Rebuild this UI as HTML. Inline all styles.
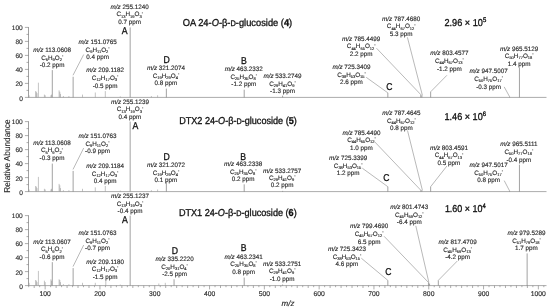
<!DOCTYPE html>
<html><head><meta charset="utf-8"><style>
html,body{margin:0;padding:0;background:#fff;}
svg{filter:blur(0.3px);display:block;font-family:"Liberation Sans",sans-serif;text-rendering:geometricPrecision;}
text{stroke:#2a2a2a;stroke-width:0.14px;}
</style></head><body>
<svg width="550" height="308" viewBox="0 0 550 308" font-size="6.3" fill="#2a2a2a">
<rect width="550" height="308" fill="#fff"/>
<line x1="28.50" y1="27.10" x2="28.50" y2="97.70" stroke="#777" stroke-width="0.7"/>
<line x1="24.90" y1="97.40" x2="28.50" y2="97.40" stroke="#777" stroke-width="0.6"/>
<line x1="26.50" y1="90.40" x2="28.50" y2="90.40" stroke="#777" stroke-width="0.6"/>
<line x1="24.90" y1="83.40" x2="28.50" y2="83.40" stroke="#777" stroke-width="0.6"/>
<line x1="26.50" y1="76.40" x2="28.50" y2="76.40" stroke="#777" stroke-width="0.6"/>
<line x1="24.90" y1="69.40" x2="28.50" y2="69.40" stroke="#777" stroke-width="0.6"/>
<line x1="26.50" y1="62.40" x2="28.50" y2="62.40" stroke="#777" stroke-width="0.6"/>
<line x1="24.90" y1="55.40" x2="28.50" y2="55.40" stroke="#777" stroke-width="0.6"/>
<line x1="26.50" y1="48.40" x2="28.50" y2="48.40" stroke="#777" stroke-width="0.6"/>
<line x1="24.90" y1="41.40" x2="28.50" y2="41.40" stroke="#777" stroke-width="0.6"/>
<line x1="26.50" y1="34.40" x2="28.50" y2="34.40" stroke="#777" stroke-width="0.6"/>
<line x1="24.90" y1="27.40" x2="28.50" y2="27.40" stroke="#777" stroke-width="0.6"/>
<text x="22.80" y="100.58" text-anchor="end" font-size="6.6" fill="#2a2a2a">0</text>
<text x="22.80" y="86.42" text-anchor="end" font-size="6.6" fill="#2a2a2a">20</text>
<text x="22.80" y="72.26" text-anchor="end" font-size="6.6" fill="#2a2a2a">40</text>
<text x="22.80" y="58.10" text-anchor="end" font-size="6.6" fill="#2a2a2a">60</text>
<text x="22.80" y="43.94" text-anchor="end" font-size="6.6" fill="#2a2a2a">80</text>
<text x="22.80" y="29.78" text-anchor="end" font-size="6.6" fill="#2a2a2a">100</text>
<line x1="28.50" y1="97.40" x2="546.50" y2="97.40" stroke="#888" stroke-width="0.7"/>
<line x1="28.50" y1="121.30" x2="28.50" y2="191.90" stroke="#777" stroke-width="0.7"/>
<line x1="24.90" y1="191.60" x2="28.50" y2="191.60" stroke="#777" stroke-width="0.6"/>
<line x1="26.50" y1="184.60" x2="28.50" y2="184.60" stroke="#777" stroke-width="0.6"/>
<line x1="24.90" y1="177.60" x2="28.50" y2="177.60" stroke="#777" stroke-width="0.6"/>
<line x1="26.50" y1="170.60" x2="28.50" y2="170.60" stroke="#777" stroke-width="0.6"/>
<line x1="24.90" y1="163.60" x2="28.50" y2="163.60" stroke="#777" stroke-width="0.6"/>
<line x1="26.50" y1="156.60" x2="28.50" y2="156.60" stroke="#777" stroke-width="0.6"/>
<line x1="24.90" y1="149.60" x2="28.50" y2="149.60" stroke="#777" stroke-width="0.6"/>
<line x1="26.50" y1="142.60" x2="28.50" y2="142.60" stroke="#777" stroke-width="0.6"/>
<line x1="24.90" y1="135.60" x2="28.50" y2="135.60" stroke="#777" stroke-width="0.6"/>
<line x1="26.50" y1="128.60" x2="28.50" y2="128.60" stroke="#777" stroke-width="0.6"/>
<line x1="24.90" y1="121.60" x2="28.50" y2="121.60" stroke="#777" stroke-width="0.6"/>
<text x="22.80" y="194.78" text-anchor="end" font-size="6.6" fill="#2a2a2a">0</text>
<text x="22.80" y="180.62" text-anchor="end" font-size="6.6" fill="#2a2a2a">20</text>
<text x="22.80" y="166.46" text-anchor="end" font-size="6.6" fill="#2a2a2a">40</text>
<text x="22.80" y="152.30" text-anchor="end" font-size="6.6" fill="#2a2a2a">60</text>
<text x="22.80" y="138.14" text-anchor="end" font-size="6.6" fill="#2a2a2a">80</text>
<text x="22.80" y="123.98" text-anchor="end" font-size="6.6" fill="#2a2a2a">100</text>
<line x1="28.50" y1="191.60" x2="546.50" y2="191.60" stroke="#888" stroke-width="0.7"/>
<line x1="28.50" y1="215.30" x2="28.50" y2="285.90" stroke="#777" stroke-width="0.7"/>
<line x1="24.90" y1="285.60" x2="28.50" y2="285.60" stroke="#777" stroke-width="0.6"/>
<line x1="26.50" y1="278.60" x2="28.50" y2="278.60" stroke="#777" stroke-width="0.6"/>
<line x1="24.90" y1="271.60" x2="28.50" y2="271.60" stroke="#777" stroke-width="0.6"/>
<line x1="26.50" y1="264.60" x2="28.50" y2="264.60" stroke="#777" stroke-width="0.6"/>
<line x1="24.90" y1="257.60" x2="28.50" y2="257.60" stroke="#777" stroke-width="0.6"/>
<line x1="26.50" y1="250.60" x2="28.50" y2="250.60" stroke="#777" stroke-width="0.6"/>
<line x1="24.90" y1="243.60" x2="28.50" y2="243.60" stroke="#777" stroke-width="0.6"/>
<line x1="26.50" y1="236.60" x2="28.50" y2="236.60" stroke="#777" stroke-width="0.6"/>
<line x1="24.90" y1="229.60" x2="28.50" y2="229.60" stroke="#777" stroke-width="0.6"/>
<line x1="26.50" y1="222.60" x2="28.50" y2="222.60" stroke="#777" stroke-width="0.6"/>
<line x1="24.90" y1="215.60" x2="28.50" y2="215.60" stroke="#777" stroke-width="0.6"/>
<text x="22.80" y="288.78" text-anchor="end" font-size="6.6" fill="#2a2a2a">0</text>
<text x="22.80" y="274.62" text-anchor="end" font-size="6.6" fill="#2a2a2a">20</text>
<text x="22.80" y="260.46" text-anchor="end" font-size="6.6" fill="#2a2a2a">40</text>
<text x="22.80" y="246.30" text-anchor="end" font-size="6.6" fill="#2a2a2a">60</text>
<text x="22.80" y="232.14" text-anchor="end" font-size="6.6" fill="#2a2a2a">80</text>
<text x="22.80" y="217.98" text-anchor="end" font-size="6.6" fill="#2a2a2a">100</text>
<line x1="28.50" y1="285.60" x2="546.50" y2="285.60" stroke="#888" stroke-width="0.7"/>
<line x1="28.71" y1="285.60" x2="28.71" y2="287.20" stroke="#777" stroke-width="0.6"/>
<line x1="34.19" y1="285.60" x2="34.19" y2="288.00" stroke="#777" stroke-width="0.6"/>
<line x1="39.67" y1="285.60" x2="39.67" y2="287.20" stroke="#777" stroke-width="0.6"/>
<line x1="45.15" y1="285.60" x2="45.15" y2="289.40" stroke="#777" stroke-width="0.6"/>
<line x1="50.63" y1="285.60" x2="50.63" y2="287.20" stroke="#777" stroke-width="0.6"/>
<line x1="56.11" y1="285.60" x2="56.11" y2="288.00" stroke="#777" stroke-width="0.6"/>
<line x1="61.59" y1="285.60" x2="61.59" y2="287.20" stroke="#777" stroke-width="0.6"/>
<line x1="67.07" y1="285.60" x2="67.07" y2="288.00" stroke="#777" stroke-width="0.6"/>
<line x1="72.55" y1="285.60" x2="72.55" y2="287.20" stroke="#777" stroke-width="0.6"/>
<line x1="78.03" y1="285.60" x2="78.03" y2="288.00" stroke="#777" stroke-width="0.6"/>
<line x1="83.51" y1="285.60" x2="83.51" y2="287.20" stroke="#777" stroke-width="0.6"/>
<line x1="88.99" y1="285.60" x2="88.99" y2="288.00" stroke="#777" stroke-width="0.6"/>
<line x1="94.47" y1="285.60" x2="94.47" y2="287.20" stroke="#777" stroke-width="0.6"/>
<line x1="99.95" y1="285.60" x2="99.95" y2="289.40" stroke="#777" stroke-width="0.6"/>
<line x1="105.43" y1="285.60" x2="105.43" y2="287.20" stroke="#777" stroke-width="0.6"/>
<line x1="110.91" y1="285.60" x2="110.91" y2="288.00" stroke="#777" stroke-width="0.6"/>
<line x1="116.39" y1="285.60" x2="116.39" y2="287.20" stroke="#777" stroke-width="0.6"/>
<line x1="121.87" y1="285.60" x2="121.87" y2="288.00" stroke="#777" stroke-width="0.6"/>
<line x1="127.35" y1="285.60" x2="127.35" y2="287.20" stroke="#777" stroke-width="0.6"/>
<line x1="132.83" y1="285.60" x2="132.83" y2="288.00" stroke="#777" stroke-width="0.6"/>
<line x1="138.31" y1="285.60" x2="138.31" y2="287.20" stroke="#777" stroke-width="0.6"/>
<line x1="143.79" y1="285.60" x2="143.79" y2="288.00" stroke="#777" stroke-width="0.6"/>
<line x1="149.27" y1="285.60" x2="149.27" y2="287.20" stroke="#777" stroke-width="0.6"/>
<line x1="154.75" y1="285.60" x2="154.75" y2="289.40" stroke="#777" stroke-width="0.6"/>
<line x1="160.23" y1="285.60" x2="160.23" y2="287.20" stroke="#777" stroke-width="0.6"/>
<line x1="165.71" y1="285.60" x2="165.71" y2="288.00" stroke="#777" stroke-width="0.6"/>
<line x1="171.19" y1="285.60" x2="171.19" y2="287.20" stroke="#777" stroke-width="0.6"/>
<line x1="176.67" y1="285.60" x2="176.67" y2="288.00" stroke="#777" stroke-width="0.6"/>
<line x1="182.15" y1="285.60" x2="182.15" y2="287.20" stroke="#777" stroke-width="0.6"/>
<line x1="187.63" y1="285.60" x2="187.63" y2="288.00" stroke="#777" stroke-width="0.6"/>
<line x1="193.11" y1="285.60" x2="193.11" y2="287.20" stroke="#777" stroke-width="0.6"/>
<line x1="198.59" y1="285.60" x2="198.59" y2="288.00" stroke="#777" stroke-width="0.6"/>
<line x1="204.07" y1="285.60" x2="204.07" y2="287.20" stroke="#777" stroke-width="0.6"/>
<line x1="209.55" y1="285.60" x2="209.55" y2="289.40" stroke="#777" stroke-width="0.6"/>
<line x1="215.03" y1="285.60" x2="215.03" y2="287.20" stroke="#777" stroke-width="0.6"/>
<line x1="220.51" y1="285.60" x2="220.51" y2="288.00" stroke="#777" stroke-width="0.6"/>
<line x1="225.99" y1="285.60" x2="225.99" y2="287.20" stroke="#777" stroke-width="0.6"/>
<line x1="231.47" y1="285.60" x2="231.47" y2="288.00" stroke="#777" stroke-width="0.6"/>
<line x1="236.95" y1="285.60" x2="236.95" y2="287.20" stroke="#777" stroke-width="0.6"/>
<line x1="242.43" y1="285.60" x2="242.43" y2="288.00" stroke="#777" stroke-width="0.6"/>
<line x1="247.91" y1="285.60" x2="247.91" y2="287.20" stroke="#777" stroke-width="0.6"/>
<line x1="253.39" y1="285.60" x2="253.39" y2="288.00" stroke="#777" stroke-width="0.6"/>
<line x1="258.87" y1="285.60" x2="258.87" y2="287.20" stroke="#777" stroke-width="0.6"/>
<line x1="264.35" y1="285.60" x2="264.35" y2="289.40" stroke="#777" stroke-width="0.6"/>
<line x1="269.83" y1="285.60" x2="269.83" y2="287.20" stroke="#777" stroke-width="0.6"/>
<line x1="275.31" y1="285.60" x2="275.31" y2="288.00" stroke="#777" stroke-width="0.6"/>
<line x1="280.79" y1="285.60" x2="280.79" y2="287.20" stroke="#777" stroke-width="0.6"/>
<line x1="286.27" y1="285.60" x2="286.27" y2="288.00" stroke="#777" stroke-width="0.6"/>
<line x1="291.75" y1="285.60" x2="291.75" y2="287.20" stroke="#777" stroke-width="0.6"/>
<line x1="297.23" y1="285.60" x2="297.23" y2="288.00" stroke="#777" stroke-width="0.6"/>
<line x1="302.71" y1="285.60" x2="302.71" y2="287.20" stroke="#777" stroke-width="0.6"/>
<line x1="308.19" y1="285.60" x2="308.19" y2="288.00" stroke="#777" stroke-width="0.6"/>
<line x1="313.67" y1="285.60" x2="313.67" y2="287.20" stroke="#777" stroke-width="0.6"/>
<line x1="319.15" y1="285.60" x2="319.15" y2="289.40" stroke="#777" stroke-width="0.6"/>
<line x1="324.63" y1="285.60" x2="324.63" y2="287.20" stroke="#777" stroke-width="0.6"/>
<line x1="330.11" y1="285.60" x2="330.11" y2="288.00" stroke="#777" stroke-width="0.6"/>
<line x1="335.59" y1="285.60" x2="335.59" y2="287.20" stroke="#777" stroke-width="0.6"/>
<line x1="341.07" y1="285.60" x2="341.07" y2="288.00" stroke="#777" stroke-width="0.6"/>
<line x1="346.55" y1="285.60" x2="346.55" y2="287.20" stroke="#777" stroke-width="0.6"/>
<line x1="352.03" y1="285.60" x2="352.03" y2="288.00" stroke="#777" stroke-width="0.6"/>
<line x1="357.51" y1="285.60" x2="357.51" y2="287.20" stroke="#777" stroke-width="0.6"/>
<line x1="362.99" y1="285.60" x2="362.99" y2="288.00" stroke="#777" stroke-width="0.6"/>
<line x1="368.47" y1="285.60" x2="368.47" y2="287.20" stroke="#777" stroke-width="0.6"/>
<line x1="373.95" y1="285.60" x2="373.95" y2="289.40" stroke="#777" stroke-width="0.6"/>
<line x1="379.43" y1="285.60" x2="379.43" y2="287.20" stroke="#777" stroke-width="0.6"/>
<line x1="384.91" y1="285.60" x2="384.91" y2="288.00" stroke="#777" stroke-width="0.6"/>
<line x1="390.39" y1="285.60" x2="390.39" y2="287.20" stroke="#777" stroke-width="0.6"/>
<line x1="395.87" y1="285.60" x2="395.87" y2="288.00" stroke="#777" stroke-width="0.6"/>
<line x1="401.35" y1="285.60" x2="401.35" y2="287.20" stroke="#777" stroke-width="0.6"/>
<line x1="406.83" y1="285.60" x2="406.83" y2="288.00" stroke="#777" stroke-width="0.6"/>
<line x1="412.31" y1="285.60" x2="412.31" y2="287.20" stroke="#777" stroke-width="0.6"/>
<line x1="417.79" y1="285.60" x2="417.79" y2="288.00" stroke="#777" stroke-width="0.6"/>
<line x1="423.27" y1="285.60" x2="423.27" y2="287.20" stroke="#777" stroke-width="0.6"/>
<line x1="428.75" y1="285.60" x2="428.75" y2="289.40" stroke="#777" stroke-width="0.6"/>
<line x1="434.23" y1="285.60" x2="434.23" y2="287.20" stroke="#777" stroke-width="0.6"/>
<line x1="439.71" y1="285.60" x2="439.71" y2="288.00" stroke="#777" stroke-width="0.6"/>
<line x1="445.19" y1="285.60" x2="445.19" y2="287.20" stroke="#777" stroke-width="0.6"/>
<line x1="450.67" y1="285.60" x2="450.67" y2="288.00" stroke="#777" stroke-width="0.6"/>
<line x1="456.15" y1="285.60" x2="456.15" y2="287.20" stroke="#777" stroke-width="0.6"/>
<line x1="461.63" y1="285.60" x2="461.63" y2="288.00" stroke="#777" stroke-width="0.6"/>
<line x1="467.11" y1="285.60" x2="467.11" y2="287.20" stroke="#777" stroke-width="0.6"/>
<line x1="472.59" y1="285.60" x2="472.59" y2="288.00" stroke="#777" stroke-width="0.6"/>
<line x1="478.07" y1="285.60" x2="478.07" y2="287.20" stroke="#777" stroke-width="0.6"/>
<line x1="483.55" y1="285.60" x2="483.55" y2="289.40" stroke="#777" stroke-width="0.6"/>
<line x1="489.03" y1="285.60" x2="489.03" y2="287.20" stroke="#777" stroke-width="0.6"/>
<line x1="494.51" y1="285.60" x2="494.51" y2="288.00" stroke="#777" stroke-width="0.6"/>
<line x1="499.99" y1="285.60" x2="499.99" y2="287.20" stroke="#777" stroke-width="0.6"/>
<line x1="505.47" y1="285.60" x2="505.47" y2="288.00" stroke="#777" stroke-width="0.6"/>
<line x1="510.95" y1="285.60" x2="510.95" y2="287.20" stroke="#777" stroke-width="0.6"/>
<line x1="516.43" y1="285.60" x2="516.43" y2="288.00" stroke="#777" stroke-width="0.6"/>
<line x1="521.91" y1="285.60" x2="521.91" y2="287.20" stroke="#777" stroke-width="0.6"/>
<line x1="527.39" y1="285.60" x2="527.39" y2="288.00" stroke="#777" stroke-width="0.6"/>
<line x1="532.87" y1="285.60" x2="532.87" y2="287.20" stroke="#777" stroke-width="0.6"/>
<line x1="538.35" y1="285.60" x2="538.35" y2="289.40" stroke="#777" stroke-width="0.6"/>
<line x1="543.83" y1="285.60" x2="543.83" y2="287.20" stroke="#777" stroke-width="0.6"/>
<text x="45.15" y="296.15" text-anchor="middle" font-size="6.8" fill="#2a2a2a">100</text>
<text x="99.95" y="296.15" text-anchor="middle" font-size="6.8" fill="#2a2a2a">200</text>
<text x="154.75" y="296.15" text-anchor="middle" font-size="6.8" fill="#2a2a2a">300</text>
<text x="209.55" y="296.15" text-anchor="middle" font-size="6.8" fill="#2a2a2a">400</text>
<text x="264.35" y="296.15" text-anchor="middle" font-size="6.8" fill="#2a2a2a">500</text>
<text x="319.15" y="296.15" text-anchor="middle" font-size="6.8" fill="#2a2a2a">600</text>
<text x="373.95" y="296.15" text-anchor="middle" font-size="6.8" fill="#2a2a2a">700</text>
<text x="428.75" y="296.15" text-anchor="middle" font-size="6.8" fill="#2a2a2a">800</text>
<text x="483.55" y="296.15" text-anchor="middle" font-size="6.8" fill="#2a2a2a">900</text>
<text x="538.35" y="296.15" text-anchor="middle" font-size="6.8" fill="#2a2a2a">1000</text>
<text x="288" y="305.78" text-anchor="middle" font-size="8" font-style="italic" fill="#2a2a2a">m/z</text>
<text transform="translate(10.0,156.1) rotate(-90)" text-anchor="middle" font-size="8.6" fill="#2a2a2a" textLength="73.2" lengthAdjust="spacingAndGlyphs" x="0" y="0">Relative Abundance</text>
<line x1="29.10" y1="97.40" x2="29.10" y2="95.30" stroke="#9a9a9a" stroke-width="0.6"/>
<line x1="35.60" y1="97.40" x2="35.60" y2="91.10" stroke="#9a9a9a" stroke-width="0.6"/>
<line x1="36.40" y1="97.40" x2="36.40" y2="91.80" stroke="#9a9a9a" stroke-width="0.6"/>
<line x1="37.00" y1="97.40" x2="37.00" y2="93.20" stroke="#9a9a9a" stroke-width="0.6"/>
<line x1="38.40" y1="97.40" x2="38.40" y2="82.70" stroke="#9a9a9a" stroke-width="0.6"/>
<line x1="44.40" y1="97.40" x2="44.40" y2="94.60" stroke="#9a9a9a" stroke-width="0.6"/>
<line x1="45.20" y1="97.40" x2="45.20" y2="95.30" stroke="#9a9a9a" stroke-width="0.6"/>
<line x1="50.90" y1="97.40" x2="50.90" y2="95.30" stroke="#9a9a9a" stroke-width="0.6"/>
<line x1="51.50" y1="97.40" x2="51.50" y2="94.60" stroke="#9a9a9a" stroke-width="0.6"/>
<line x1="59.10" y1="97.40" x2="59.10" y2="90.40" stroke="#9a9a9a" stroke-width="0.6"/>
<line x1="59.80" y1="97.40" x2="59.80" y2="91.80" stroke="#9a9a9a" stroke-width="0.6"/>
<line x1="60.50" y1="97.40" x2="60.50" y2="93.90" stroke="#9a9a9a" stroke-width="0.6"/>
<line x1="63.40" y1="97.40" x2="63.40" y2="96.00" stroke="#9a9a9a" stroke-width="0.6"/>
<line x1="68.90" y1="97.40" x2="68.90" y2="96.00" stroke="#9a9a9a" stroke-width="0.6"/>
<line x1="82.50" y1="97.40" x2="82.50" y2="94.60" stroke="#9a9a9a" stroke-width="0.6"/>
<line x1="95.30" y1="97.40" x2="95.30" y2="92.50" stroke="#9a9a9a" stroke-width="0.6"/>
<line x1="105.30" y1="97.40" x2="105.30" y2="91.10" stroke="#9a9a9a" stroke-width="0.6"/>
<line x1="120.30" y1="97.40" x2="120.30" y2="96.35" stroke="#9a9a9a" stroke-width="0.6"/>
<line x1="151.40" y1="97.40" x2="151.40" y2="96.00" stroke="#9a9a9a" stroke-width="0.6"/>
<line x1="157.60" y1="97.40" x2="157.60" y2="95.30" stroke="#9a9a9a" stroke-width="0.6"/>
<line x1="29.10" y1="191.60" x2="29.10" y2="189.50" stroke="#9a9a9a" stroke-width="0.6"/>
<line x1="35.60" y1="191.60" x2="35.60" y2="186.00" stroke="#9a9a9a" stroke-width="0.6"/>
<line x1="36.40" y1="191.60" x2="36.40" y2="186.70" stroke="#9a9a9a" stroke-width="0.6"/>
<line x1="37.00" y1="191.60" x2="37.00" y2="188.10" stroke="#9a9a9a" stroke-width="0.6"/>
<line x1="38.40" y1="191.60" x2="38.40" y2="176.90" stroke="#9a9a9a" stroke-width="0.6"/>
<line x1="44.40" y1="191.60" x2="44.40" y2="188.80" stroke="#9a9a9a" stroke-width="0.6"/>
<line x1="45.20" y1="191.60" x2="45.20" y2="189.50" stroke="#9a9a9a" stroke-width="0.6"/>
<line x1="50.90" y1="191.60" x2="50.90" y2="189.50" stroke="#9a9a9a" stroke-width="0.6"/>
<line x1="51.50" y1="191.60" x2="51.50" y2="188.80" stroke="#9a9a9a" stroke-width="0.6"/>
<line x1="59.10" y1="191.60" x2="59.10" y2="183.90" stroke="#9a9a9a" stroke-width="0.6"/>
<line x1="59.80" y1="191.60" x2="59.80" y2="185.30" stroke="#9a9a9a" stroke-width="0.6"/>
<line x1="60.50" y1="191.60" x2="60.50" y2="188.10" stroke="#9a9a9a" stroke-width="0.6"/>
<line x1="63.40" y1="191.60" x2="63.40" y2="190.20" stroke="#9a9a9a" stroke-width="0.6"/>
<line x1="68.90" y1="191.60" x2="68.90" y2="190.20" stroke="#9a9a9a" stroke-width="0.6"/>
<line x1="82.50" y1="191.60" x2="82.50" y2="188.80" stroke="#9a9a9a" stroke-width="0.6"/>
<line x1="95.30" y1="191.60" x2="95.30" y2="187.40" stroke="#9a9a9a" stroke-width="0.6"/>
<line x1="105.30" y1="191.60" x2="105.30" y2="186.00" stroke="#9a9a9a" stroke-width="0.6"/>
<line x1="120.30" y1="191.60" x2="120.30" y2="190.55" stroke="#9a9a9a" stroke-width="0.6"/>
<line x1="151.40" y1="191.60" x2="151.40" y2="190.20" stroke="#9a9a9a" stroke-width="0.6"/>
<line x1="157.60" y1="191.60" x2="157.60" y2="189.50" stroke="#9a9a9a" stroke-width="0.6"/>
<line x1="29.10" y1="285.60" x2="29.10" y2="282.80" stroke="#9a9a9a" stroke-width="0.6"/>
<line x1="35.60" y1="285.60" x2="35.60" y2="280.00" stroke="#9a9a9a" stroke-width="0.6"/>
<line x1="36.40" y1="285.60" x2="36.40" y2="280.70" stroke="#9a9a9a" stroke-width="0.6"/>
<line x1="37.00" y1="285.60" x2="37.00" y2="282.10" stroke="#9a9a9a" stroke-width="0.6"/>
<line x1="38.40" y1="285.60" x2="38.40" y2="270.90" stroke="#9a9a9a" stroke-width="0.6"/>
<line x1="44.40" y1="285.60" x2="44.40" y2="280.70" stroke="#9a9a9a" stroke-width="0.6"/>
<line x1="45.20" y1="285.60" x2="45.20" y2="282.10" stroke="#9a9a9a" stroke-width="0.6"/>
<line x1="50.90" y1="285.60" x2="50.90" y2="279.30" stroke="#9a9a9a" stroke-width="0.6"/>
<line x1="51.50" y1="285.60" x2="51.50" y2="280.70" stroke="#9a9a9a" stroke-width="0.6"/>
<line x1="59.10" y1="285.60" x2="59.10" y2="279.30" stroke="#9a9a9a" stroke-width="0.6"/>
<line x1="59.80" y1="285.60" x2="59.80" y2="280.00" stroke="#9a9a9a" stroke-width="0.6"/>
<line x1="60.50" y1="285.60" x2="60.50" y2="282.10" stroke="#9a9a9a" stroke-width="0.6"/>
<line x1="63.40" y1="285.60" x2="63.40" y2="284.20" stroke="#9a9a9a" stroke-width="0.6"/>
<line x1="68.90" y1="285.60" x2="68.90" y2="284.20" stroke="#9a9a9a" stroke-width="0.6"/>
<line x1="82.50" y1="285.60" x2="82.50" y2="282.80" stroke="#9a9a9a" stroke-width="0.6"/>
<line x1="95.30" y1="285.60" x2="95.30" y2="282.80" stroke="#9a9a9a" stroke-width="0.6"/>
<line x1="105.80" y1="285.60" x2="105.80" y2="280.00" stroke="#9a9a9a" stroke-width="0.6"/>
<line x1="120.30" y1="285.60" x2="120.30" y2="284.55" stroke="#9a9a9a" stroke-width="0.6"/>
<line x1="158.80" y1="285.60" x2="158.80" y2="283.50" stroke="#9a9a9a" stroke-width="0.6"/>
<line x1="165.30" y1="285.60" x2="165.30" y2="282.80" stroke="#9a9a9a" stroke-width="0.6"/>
<line x1="130.16" y1="97.40" x2="130.16" y2="27.40" stroke="#7a7a7a" stroke-width="0.7"/>
<line x1="52.31" y1="97.40" x2="52.31" y2="70.10" stroke="#7a7a7a" stroke-width="0.7"/>
<line x1="73.14" y1="97.40" x2="73.14" y2="76.75" stroke="#7a7a7a" stroke-width="0.7"/>
<line x1="166.37" y1="97.40" x2="166.37" y2="88.65" stroke="#7a7a7a" stroke-width="0.7"/>
<line x1="244.20" y1="97.40" x2="244.20" y2="89.70" stroke="#7a7a7a" stroke-width="0.7"/>
<line x1="282.58" y1="97.40" x2="282.58" y2="95.65" stroke="#7a7a7a" stroke-width="0.7"/>
<line x1="387.84" y1="97.40" x2="387.84" y2="92.85" stroke="#7a7a7a" stroke-width="0.7"/>
<line x1="420.78" y1="97.40" x2="420.78" y2="94.60" stroke="#7a7a7a" stroke-width="0.7"/>
<line x1="421.88" y1="97.40" x2="421.88" y2="95.30" stroke="#7a7a7a" stroke-width="0.7"/>
<line x1="430.65" y1="97.40" x2="430.65" y2="91.80" stroke="#7a7a7a" stroke-width="0.7"/>
<line x1="509.58" y1="97.40" x2="509.58" y2="96.70" stroke="#7a7a7a" stroke-width="0.7"/>
<line x1="519.45" y1="97.40" x2="519.45" y2="67.65" stroke="#7a7a7a" stroke-width="0.7"/>
<text x="129.70" y="8.77" text-anchor="middle"><tspan font-style="italic">m/z</tspan> 255.1240</text>
<text x="129.70" y="16.49" text-anchor="middle"><tspan dy="0.00">C</tspan><tspan font-size="4.03" dy="1.10">13</tspan><tspan dy="-1.10">H</tspan><tspan font-size="4.03" dy="1.10">19</tspan><tspan dy="-1.10">O</tspan><tspan font-size="4.03" dy="1.10">3</tspan><tspan font-size="3.91" dy="-4.00">-</tspan></text>
<text x="129.70" y="23.87" text-anchor="middle" font-size="6.3" >0.7 ppm</text>
<text transform="translate(124.60,33.96) scale(0.88,1)" text-anchor="middle" font-size="9.9" fill="#111" style="stroke:#111;stroke-width:0.3px">A</text>
<text x="52.20" y="51.97" text-anchor="middle"><tspan font-style="italic">m/z</tspan> 113.0608</text>
<text x="52.20" y="59.69" text-anchor="middle"><tspan dy="0.00">C</tspan><tspan font-size="4.03" dy="1.10">6</tspan><tspan dy="-1.10">H</tspan><tspan font-size="4.03" dy="1.10">9</tspan><tspan dy="-1.10">O</tspan><tspan font-size="4.03" dy="1.10">2</tspan><tspan font-size="3.91" dy="-4.00">-</tspan></text>
<text x="52.20" y="67.07" text-anchor="middle" font-size="6.3" >-0.2 ppm</text>
<text x="97.60" y="44.17" text-anchor="middle"><tspan font-style="italic">m/z</tspan> 151.0765</text>
<text x="97.60" y="51.89" text-anchor="middle"><tspan dy="0.00">C</tspan><tspan font-size="4.03" dy="1.10">9</tspan><tspan dy="-1.10">H</tspan><tspan font-size="4.03" dy="1.10">11</tspan><tspan dy="-1.10">O</tspan><tspan font-size="4.03" dy="1.10">2</tspan><tspan font-size="3.91" dy="-4.00">-</tspan></text>
<text x="97.60" y="59.27" text-anchor="middle" font-size="6.3" >0.4 ppm</text>
<text x="105.10" y="72.47" text-anchor="middle"><tspan font-style="italic">m/z</tspan> 209.1182</text>
<text x="105.10" y="80.19" text-anchor="middle"><tspan dy="0.00">C</tspan><tspan font-size="4.03" dy="1.10">12</tspan><tspan dy="-1.10">H</tspan><tspan font-size="4.03" dy="1.10">17</tspan><tspan dy="-1.10">O</tspan><tspan font-size="4.03" dy="1.10">3</tspan><tspan font-size="3.91" dy="-4.00">-</tspan></text>
<text x="105.10" y="87.57" text-anchor="middle" font-size="6.3" >-0.5 ppm</text>
<text transform="translate(166.70,63.16) scale(0.88,1)" text-anchor="middle" font-size="9.9" fill="#111" style="stroke:#111;stroke-width:0.3px">D</text>
<text x="166.00" y="69.87" text-anchor="middle"><tspan font-style="italic">m/z</tspan> 321.2074</text>
<text x="166.00" y="77.59" text-anchor="middle"><tspan dy="0.00">C</tspan><tspan font-size="4.03" dy="1.10">19</tspan><tspan dy="-1.10">H</tspan><tspan font-size="4.03" dy="1.10">29</tspan><tspan dy="-1.10">O</tspan><tspan font-size="4.03" dy="1.10">4</tspan><tspan font-size="3.91" dy="-4.00">-</tspan></text>
<text x="166.00" y="84.97" text-anchor="middle" font-size="6.3" >0.8 ppm</text>
<text transform="translate(243.80,64.36) scale(0.88,1)" text-anchor="middle" font-size="9.9" fill="#111" style="stroke:#111;stroke-width:0.3px">B</text>
<text x="243.80" y="70.87" text-anchor="middle"><tspan font-style="italic">m/z</tspan> 463.2332</text>
<text x="243.80" y="78.59" text-anchor="middle"><tspan dy="0.00">C</tspan><tspan font-size="4.03" dy="1.10">25</tspan><tspan dy="-1.10">H</tspan><tspan font-size="4.03" dy="1.10">35</tspan><tspan dy="-1.10">O</tspan><tspan font-size="4.03" dy="1.10">8</tspan><tspan font-size="3.91" dy="-4.00">-</tspan></text>
<text x="243.80" y="85.97" text-anchor="middle" font-size="6.3" >-1.2 ppm</text>
<text x="282.50" y="78.17" text-anchor="middle"><tspan font-style="italic">m/z</tspan> 533.2749</text>
<text x="282.50" y="85.89" text-anchor="middle"><tspan dy="0.00">C</tspan><tspan font-size="4.03" dy="1.10">29</tspan><tspan dy="-1.10">H</tspan><tspan font-size="4.03" dy="1.10">41</tspan><tspan dy="-1.10">O</tspan><tspan font-size="4.03" dy="1.10">9</tspan><tspan font-size="3.91" dy="-4.00">-</tspan></text>
<text x="282.50" y="93.27" text-anchor="middle" font-size="6.3" >-1.3 ppm</text>
<text x="351.50" y="69.07" text-anchor="middle"><tspan font-style="italic">m/z</tspan> 725.3409</text>
<text x="351.50" y="76.79" text-anchor="middle"><tspan dy="0.00">C</tspan><tspan font-size="4.03" dy="1.10">38</tspan><tspan dy="-1.10">H</tspan><tspan font-size="4.03" dy="1.10">53</tspan><tspan dy="-1.10">O</tspan><tspan font-size="4.03" dy="1.10">15</tspan><tspan font-size="3.91" dy="-4.00">-</tspan></text>
<text x="351.50" y="84.17" text-anchor="middle" font-size="6.3" >2.6 ppm</text>
<text transform="translate(389.40,89.56) scale(0.88,1)" text-anchor="middle" font-size="9.9" fill="#111" style="stroke:#111;stroke-width:0.3px">C</text>
<text x="361.20" y="40.77" text-anchor="middle"><tspan font-style="italic">m/z</tspan> 785.4499</text>
<text x="361.20" y="48.49" text-anchor="middle"><tspan dy="0.00">C</tspan><tspan font-size="4.03" dy="1.10">44</tspan><tspan dy="-1.10">H</tspan><tspan font-size="4.03" dy="1.10">65</tspan><tspan dy="-1.10">O</tspan><tspan font-size="4.03" dy="1.10">12</tspan><tspan font-size="3.91" dy="-4.00">-</tspan></text>
<text x="361.20" y="55.87" text-anchor="middle" font-size="6.3" >2.2 ppm</text>
<text x="401.20" y="20.77" text-anchor="middle"><tspan font-style="italic">m/z</tspan> 787.4680</text>
<text x="401.20" y="28.49" text-anchor="middle"><tspan dy="0.00">C</tspan><tspan font-size="4.03" dy="1.10">44</tspan><tspan dy="-1.10">H</tspan><tspan font-size="4.03" dy="1.10">67</tspan><tspan dy="-1.10">O</tspan><tspan font-size="4.03" dy="1.10">12</tspan><tspan font-size="3.91" dy="-4.00">-</tspan></text>
<text x="401.20" y="35.87" text-anchor="middle" font-size="6.3" >5.3 ppm</text>
<text x="449.40" y="55.47" text-anchor="middle"><tspan font-style="italic">m/z</tspan> 803.4577</text>
<text x="449.40" y="63.19" text-anchor="middle"><tspan dy="0.00">C</tspan><tspan font-size="4.03" dy="1.10">44</tspan><tspan dy="-1.10">H</tspan><tspan font-size="4.03" dy="1.10">67</tspan><tspan dy="-1.10">O</tspan><tspan font-size="4.03" dy="1.10">13</tspan><tspan font-size="3.91" dy="-4.00">-</tspan></text>
<text x="449.40" y="70.57" text-anchor="middle" font-size="6.3" >-1.2 ppm</text>
<text x="519.20" y="50.57" text-anchor="middle"><tspan font-style="italic">m/z</tspan> 965.5129</text>
<text x="519.20" y="58.29" text-anchor="middle"><tspan dy="0.00">C</tspan><tspan font-size="4.03" dy="1.10">50</tspan><tspan dy="-1.10">H</tspan><tspan font-size="4.03" dy="1.10">77</tspan><tspan dy="-1.10">O</tspan><tspan font-size="4.03" dy="1.10">18</tspan><tspan font-size="3.91" dy="-4.00">-</tspan></text>
<text x="519.20" y="65.67" text-anchor="middle" font-size="6.3" >1.4 ppm</text>
<text x="488.60" y="73.47" text-anchor="middle"><tspan font-style="italic">m/z</tspan> 947.5007</text>
<text x="488.60" y="81.19" text-anchor="middle"><tspan dy="0.00">C</tspan><tspan font-size="4.03" dy="1.10">50</tspan><tspan dy="-1.10">H</tspan><tspan font-size="4.03" dy="1.10">75</tspan><tspan dy="-1.10">O</tspan><tspan font-size="4.03" dy="1.10">17</tspan><tspan font-size="3.91" dy="-4.00">-</tspan></text>
<text x="488.60" y="88.57" text-anchor="middle" font-size="6.3" >-0.3 ppm</text>
<line x1="73.00" y1="75.25" x2="83.70" y2="54.50" stroke="#8a8a8a" stroke-width="0.6"/>
<line x1="366.20" y1="77.30" x2="387.84" y2="92.85" stroke="#8a8a8a" stroke-width="0.6"/>
<line x1="376.50" y1="48.20" x2="420.78" y2="94.60" stroke="#8a8a8a" stroke-width="0.6"/>
<line x1="407.40" y1="37.30" x2="422.38" y2="95.30" stroke="#8a8a8a" stroke-width="0.6"/>
<line x1="446.90" y1="75.30" x2="430.65" y2="91.80" stroke="#8a8a8a" stroke-width="0.6"/>
<line x1="504.20" y1="86.90" x2="509.58" y2="96.70" stroke="#8a8a8a" stroke-width="0.6"/>
<line x1="130.16" y1="191.60" x2="130.16" y2="121.60" stroke="#7a7a7a" stroke-width="0.7"/>
<line x1="52.31" y1="191.60" x2="52.31" y2="163.60" stroke="#7a7a7a" stroke-width="0.7"/>
<line x1="73.14" y1="191.60" x2="73.14" y2="170.95" stroke="#7a7a7a" stroke-width="0.7"/>
<line x1="166.37" y1="191.60" x2="166.37" y2="182.01" stroke="#7a7a7a" stroke-width="0.7"/>
<line x1="244.20" y1="191.60" x2="244.20" y2="184.32" stroke="#7a7a7a" stroke-width="0.7"/>
<line x1="282.58" y1="191.60" x2="282.58" y2="190.90" stroke="#7a7a7a" stroke-width="0.7"/>
<line x1="387.84" y1="191.60" x2="387.84" y2="186.70" stroke="#7a7a7a" stroke-width="0.7"/>
<line x1="420.78" y1="191.60" x2="420.78" y2="190.20" stroke="#7a7a7a" stroke-width="0.7"/>
<line x1="421.88" y1="191.60" x2="421.88" y2="190.20" stroke="#7a7a7a" stroke-width="0.7"/>
<line x1="430.65" y1="191.60" x2="430.65" y2="186.70" stroke="#7a7a7a" stroke-width="0.7"/>
<line x1="509.58" y1="191.60" x2="509.58" y2="190.90" stroke="#7a7a7a" stroke-width="0.7"/>
<line x1="519.45" y1="191.60" x2="519.45" y2="164.65" stroke="#7a7a7a" stroke-width="0.7"/>
<text x="130.00" y="103.77" text-anchor="middle"><tspan font-style="italic">m/z</tspan> 255.1239</text>
<text x="130.00" y="111.49" text-anchor="middle"><tspan dy="0.00">C</tspan><tspan font-size="4.03" dy="1.10">13</tspan><tspan dy="-1.10">H</tspan><tspan font-size="4.03" dy="1.10">19</tspan><tspan dy="-1.10">O</tspan><tspan font-size="4.03" dy="1.10">3</tspan><tspan font-size="3.91" dy="-4.00">-</tspan></text>
<text x="130.00" y="118.87" text-anchor="middle" font-size="6.3" >0.4 ppm</text>
<text transform="translate(135.30,129.16) scale(0.88,1)" text-anchor="middle" font-size="9.9" fill="#111" style="stroke:#111;stroke-width:0.3px">A</text>
<text x="52.00" y="144.77" text-anchor="middle"><tspan font-style="italic">m/z</tspan> 113.0608</text>
<text x="52.00" y="152.49" text-anchor="middle"><tspan dy="0.00">C</tspan><tspan font-size="4.03" dy="1.10">6</tspan><tspan dy="-1.10">H</tspan><tspan font-size="4.03" dy="1.10">9</tspan><tspan dy="-1.10">O</tspan><tspan font-size="4.03" dy="1.10">2</tspan><tspan font-size="3.91" dy="-4.00">-</tspan></text>
<text x="52.00" y="159.87" text-anchor="middle" font-size="6.3" >-0.3 ppm</text>
<text x="97.50" y="138.27" text-anchor="middle"><tspan font-style="italic">m/z</tspan> 151.0763</text>
<text x="97.50" y="145.99" text-anchor="middle"><tspan dy="0.00">C</tspan><tspan font-size="4.03" dy="1.10">9</tspan><tspan dy="-1.10">H</tspan><tspan font-size="4.03" dy="1.10">11</tspan><tspan dy="-1.10">O</tspan><tspan font-size="4.03" dy="1.10">2</tspan><tspan font-size="3.91" dy="-4.00">-</tspan></text>
<text x="97.50" y="153.37" text-anchor="middle" font-size="6.3" >-0.9 ppm</text>
<text x="105.10" y="168.17" text-anchor="middle"><tspan font-style="italic">m/z</tspan> 209.1184</text>
<text x="105.10" y="175.89" text-anchor="middle"><tspan dy="0.00">C</tspan><tspan font-size="4.03" dy="1.10">12</tspan><tspan dy="-1.10">H</tspan><tspan font-size="4.03" dy="1.10">17</tspan><tspan dy="-1.10">O</tspan><tspan font-size="4.03" dy="1.10">3</tspan><tspan font-size="3.91" dy="-4.00">-</tspan></text>
<text x="105.10" y="183.27" text-anchor="middle" font-size="6.3" >0.4 ppm</text>
<text transform="translate(166.70,160.16) scale(0.88,1)" text-anchor="middle" font-size="9.9" fill="#111" style="stroke:#111;stroke-width:0.3px">D</text>
<text x="166.00" y="166.97" text-anchor="middle"><tspan font-style="italic">m/z</tspan> 321.2072</text>
<text x="166.00" y="174.69" text-anchor="middle"><tspan dy="0.00">C</tspan><tspan font-size="4.03" dy="1.10">19</tspan><tspan dy="-1.10">H</tspan><tspan font-size="4.03" dy="1.10">29</tspan><tspan dy="-1.10">O</tspan><tspan font-size="4.03" dy="1.10">4</tspan><tspan font-size="3.91" dy="-4.00">-</tspan></text>
<text x="166.00" y="182.07" text-anchor="middle" font-size="6.3" >0.1 ppm</text>
<text transform="translate(243.20,159.76) scale(0.88,1)" text-anchor="middle" font-size="9.9" fill="#111" style="stroke:#111;stroke-width:0.3px">B</text>
<text x="243.20" y="166.17" text-anchor="middle"><tspan font-style="italic">m/z</tspan> 463.2338</text>
<text x="243.20" y="173.89" text-anchor="middle"><tspan dy="0.00">C</tspan><tspan font-size="4.03" dy="1.10">25</tspan><tspan dy="-1.10">H</tspan><tspan font-size="4.03" dy="1.10">35</tspan><tspan dy="-1.10">O</tspan><tspan font-size="4.03" dy="1.10">8</tspan><tspan font-size="3.91" dy="-4.00">-</tspan></text>
<text x="243.20" y="181.27" text-anchor="middle" font-size="6.3" >0.2 ppm</text>
<text x="282.20" y="172.97" text-anchor="middle"><tspan font-style="italic">m/z</tspan> 533.2757</text>
<text x="282.20" y="180.39" text-anchor="middle"><tspan dy="0.00">C</tspan><tspan font-size="4.03" dy="1.10">29</tspan><tspan dy="-1.10">H</tspan><tspan font-size="4.03" dy="1.10">41</tspan><tspan dy="-1.10">O</tspan><tspan font-size="4.03" dy="1.10">9</tspan><tspan font-size="3.91" dy="-4.00">-</tspan></text>
<text x="282.20" y="187.47" text-anchor="middle" font-size="6.3" >0.2 ppm</text>
<text x="348.20" y="160.37" text-anchor="middle"><tspan font-style="italic">m/z</tspan> 725.3399</text>
<text x="348.20" y="168.09" text-anchor="middle"><tspan dy="0.00">C</tspan><tspan font-size="4.03" dy="1.10">38</tspan><tspan dy="-1.10">H</tspan><tspan font-size="4.03" dy="1.10">53</tspan><tspan dy="-1.10">O</tspan><tspan font-size="4.03" dy="1.10">15</tspan><tspan font-size="3.91" dy="-4.00">-</tspan></text>
<text x="348.20" y="175.47" text-anchor="middle" font-size="6.3" >1.2 ppm</text>
<text transform="translate(386.50,180.86) scale(0.88,1)" text-anchor="middle" font-size="9.9" fill="#111" style="stroke:#111;stroke-width:0.3px">C</text>
<text x="361.50" y="134.57" text-anchor="middle"><tspan font-style="italic">m/z</tspan> 785.4490</text>
<text x="361.50" y="142.29" text-anchor="middle"><tspan dy="0.00">C</tspan><tspan font-size="4.03" dy="1.10">44</tspan><tspan dy="-1.10">H</tspan><tspan font-size="4.03" dy="1.10">65</tspan><tspan dy="-1.10">O</tspan><tspan font-size="4.03" dy="1.10">12</tspan><tspan font-size="3.91" dy="-4.00">-</tspan></text>
<text x="361.50" y="149.67" text-anchor="middle" font-size="6.3" >1.0 ppm</text>
<text x="401.40" y="114.97" text-anchor="middle"><tspan font-style="italic">m/z</tspan> 787.4645</text>
<text x="401.40" y="122.69" text-anchor="middle"><tspan dy="0.00">C</tspan><tspan font-size="4.03" dy="1.10">44</tspan><tspan dy="-1.10">H</tspan><tspan font-size="4.03" dy="1.10">67</tspan><tspan dy="-1.10">O</tspan><tspan font-size="4.03" dy="1.10">12</tspan><tspan font-size="3.91" dy="-4.00">-</tspan></text>
<text x="401.40" y="130.07" text-anchor="middle" font-size="6.3" >0.8 ppm</text>
<text x="449.00" y="149.77" text-anchor="middle"><tspan font-style="italic">m/z</tspan> 803.4591</text>
<text x="449.00" y="157.49" text-anchor="middle"><tspan dy="0.00">C</tspan><tspan font-size="4.03" dy="1.10">44</tspan><tspan dy="-1.10">H</tspan><tspan font-size="4.03" dy="1.10">67</tspan><tspan dy="-1.10">O</tspan><tspan font-size="4.03" dy="1.10">13</tspan><tspan font-size="3.91" dy="-4.00">-</tspan></text>
<text x="449.00" y="164.87" text-anchor="middle" font-size="6.3" >0.5 ppm</text>
<text x="518.90" y="146.47" text-anchor="middle"><tspan font-style="italic">m/z</tspan> 965.5111</text>
<text x="518.90" y="154.19" text-anchor="middle"><tspan dy="0.00">C</tspan><tspan font-size="4.03" dy="1.10">50</tspan><tspan dy="-1.10">H</tspan><tspan font-size="4.03" dy="1.10">77</tspan><tspan dy="-1.10">O</tspan><tspan font-size="4.03" dy="1.10">18</tspan><tspan font-size="3.91" dy="-4.00">-</tspan></text>
<text x="518.90" y="161.57" text-anchor="middle" font-size="6.3" >-0.4 ppm</text>
<text x="488.60" y="167.17" text-anchor="middle"><tspan font-style="italic">m/z</tspan> 947.5017</text>
<text x="488.60" y="174.89" text-anchor="middle"><tspan dy="0.00">C</tspan><tspan font-size="4.03" dy="1.10">50</tspan><tspan dy="-1.10">H</tspan><tspan font-size="4.03" dy="1.10">75</tspan><tspan dy="-1.10">O</tspan><tspan font-size="4.03" dy="1.10">17</tspan><tspan font-size="3.91" dy="-4.00">-</tspan></text>
<text x="488.60" y="182.27" text-anchor="middle" font-size="6.3" >0.8 ppm</text>
<line x1="73.00" y1="169.45" x2="83.70" y2="148.00" stroke="#8a8a8a" stroke-width="0.6"/>
<line x1="362.30" y1="168.20" x2="387.84" y2="186.70" stroke="#8a8a8a" stroke-width="0.6"/>
<line x1="374.40" y1="141.50" x2="420.78" y2="190.20" stroke="#8a8a8a" stroke-width="0.6"/>
<line x1="407.50" y1="130.50" x2="422.38" y2="190.20" stroke="#8a8a8a" stroke-width="0.6"/>
<line x1="446.90" y1="166.00" x2="430.65" y2="186.70" stroke="#8a8a8a" stroke-width="0.6"/>
<line x1="504.20" y1="180.60" x2="509.58" y2="190.90" stroke="#8a8a8a" stroke-width="0.6"/>
<line x1="130.16" y1="285.60" x2="130.16" y2="215.60" stroke="#7a7a7a" stroke-width="0.7"/>
<line x1="52.31" y1="285.60" x2="52.31" y2="262.15" stroke="#7a7a7a" stroke-width="0.7"/>
<line x1="73.14" y1="285.60" x2="73.14" y2="268.10" stroke="#7a7a7a" stroke-width="0.7"/>
<line x1="174.05" y1="285.60" x2="174.05" y2="279.30" stroke="#7a7a7a" stroke-width="0.7"/>
<line x1="244.20" y1="285.60" x2="244.20" y2="277.55" stroke="#7a7a7a" stroke-width="0.7"/>
<line x1="282.58" y1="285.60" x2="282.58" y2="284.55" stroke="#7a7a7a" stroke-width="0.7"/>
<line x1="387.84" y1="285.60" x2="387.84" y2="280.35" stroke="#7a7a7a" stroke-width="0.7"/>
<line x1="428.46" y1="285.60" x2="428.46" y2="282.45" stroke="#7a7a7a" stroke-width="0.7"/>
<line x1="429.56" y1="285.60" x2="429.56" y2="283.50" stroke="#7a7a7a" stroke-width="0.7"/>
<line x1="438.32" y1="285.60" x2="438.32" y2="280.35" stroke="#7a7a7a" stroke-width="0.7"/>
<line x1="527.13" y1="285.60" x2="527.13" y2="253.40" stroke="#7a7a7a" stroke-width="0.7"/>
<text x="130.00" y="197.87" text-anchor="middle"><tspan font-style="italic">m/z</tspan> 255.1237</text>
<text x="130.00" y="205.59" text-anchor="middle"><tspan dy="0.00">C</tspan><tspan font-size="4.03" dy="1.10">13</tspan><tspan dy="-1.10">H</tspan><tspan font-size="4.03" dy="1.10">19</tspan><tspan dy="-1.10">O</tspan><tspan font-size="4.03" dy="1.10">3</tspan><tspan font-size="3.91" dy="-4.00">-</tspan></text>
<text x="130.00" y="212.97" text-anchor="middle" font-size="6.3" >-0.4 ppm</text>
<text transform="translate(124.90,223.36) scale(0.88,1)" text-anchor="middle" font-size="9.9" fill="#111" style="stroke:#111;stroke-width:0.3px">A</text>
<text x="52.00" y="243.77" text-anchor="middle"><tspan font-style="italic">m/z</tspan> 113.0607</text>
<text x="52.00" y="251.49" text-anchor="middle"><tspan dy="0.00">C</tspan><tspan font-size="4.03" dy="1.10">6</tspan><tspan dy="-1.10">H</tspan><tspan font-size="4.03" dy="1.10">9</tspan><tspan dy="-1.10">O</tspan><tspan font-size="4.03" dy="1.10">2</tspan><tspan font-size="3.91" dy="-4.00">-</tspan></text>
<text x="52.00" y="258.87" text-anchor="middle" font-size="6.3" >-0.6 ppm</text>
<text x="97.50" y="234.97" text-anchor="middle"><tspan font-style="italic">m/z</tspan> 151.0763</text>
<text x="97.50" y="242.69" text-anchor="middle"><tspan dy="0.00">C</tspan><tspan font-size="4.03" dy="1.10">9</tspan><tspan dy="-1.10">H</tspan><tspan font-size="4.03" dy="1.10">11</tspan><tspan dy="-1.10">O</tspan><tspan font-size="4.03" dy="1.10">2</tspan><tspan font-size="3.91" dy="-4.00">-</tspan></text>
<text x="97.50" y="250.07" text-anchor="middle" font-size="6.3" >-0.7 ppm</text>
<text x="105.10" y="263.57" text-anchor="middle"><tspan font-style="italic">m/z</tspan> 209.1180</text>
<text x="105.10" y="271.29" text-anchor="middle"><tspan dy="0.00">C</tspan><tspan font-size="4.03" dy="1.10">12</tspan><tspan dy="-1.10">H</tspan><tspan font-size="4.03" dy="1.10">17</tspan><tspan dy="-1.10">O</tspan><tspan font-size="4.03" dy="1.10">3</tspan><tspan font-size="3.91" dy="-4.00">-</tspan></text>
<text x="105.10" y="278.67" text-anchor="middle" font-size="6.3" >-1.5 ppm</text>
<text transform="translate(174.80,254.36) scale(0.88,1)" text-anchor="middle" font-size="9.9" fill="#111" style="stroke:#111;stroke-width:0.3px">D</text>
<text x="174.60" y="261.17" text-anchor="middle"><tspan font-style="italic">m/z</tspan> 335.2220</text>
<text x="174.60" y="268.89" text-anchor="middle"><tspan dy="0.00">C</tspan><tspan font-size="4.03" dy="1.10">20</tspan><tspan dy="-1.10">H</tspan><tspan font-size="4.03" dy="1.10">31</tspan><tspan dy="-1.10">O</tspan><tspan font-size="4.03" dy="1.10">4</tspan><tspan font-size="3.91" dy="-4.00">-</tspan></text>
<text x="174.60" y="276.27" text-anchor="middle" font-size="6.3" >-2.5 ppm</text>
<text transform="translate(243.60,250.76) scale(0.88,1)" text-anchor="middle" font-size="9.9" fill="#111" style="stroke:#111;stroke-width:0.3px">B</text>
<text x="243.60" y="258.57" text-anchor="middle"><tspan font-style="italic">m/z</tspan> 463.2341</text>
<text x="243.60" y="266.29" text-anchor="middle"><tspan dy="0.00">C</tspan><tspan font-size="4.03" dy="1.10">25</tspan><tspan dy="-1.10">H</tspan><tspan font-size="4.03" dy="1.10">35</tspan><tspan dy="-1.10">O</tspan><tspan font-size="4.03" dy="1.10">8</tspan><tspan font-size="3.91" dy="-4.00">-</tspan></text>
<text x="243.60" y="273.67" text-anchor="middle" font-size="6.3" >0.8 ppm</text>
<text x="282.20" y="265.57" text-anchor="middle"><tspan font-style="italic">m/z</tspan> 533.2751</text>
<text x="282.20" y="273.29" text-anchor="middle"><tspan dy="0.00">C</tspan><tspan font-size="4.03" dy="1.10">29</tspan><tspan dy="-1.10">H</tspan><tspan font-size="4.03" dy="1.10">41</tspan><tspan dy="-1.10">O</tspan><tspan font-size="4.03" dy="1.10">9</tspan><tspan font-size="3.91" dy="-4.00">-</tspan></text>
<text x="282.20" y="280.67" text-anchor="middle" font-size="6.3" >-1.0 ppm</text>
<text x="347.00" y="251.07" text-anchor="middle"><tspan font-style="italic">m/z</tspan> 725.3423</text>
<text x="347.00" y="258.79" text-anchor="middle"><tspan dy="0.00">C</tspan><tspan font-size="4.03" dy="1.10">38</tspan><tspan dy="-1.10">H</tspan><tspan font-size="4.03" dy="1.10">53</tspan><tspan dy="-1.10">O</tspan><tspan font-size="4.03" dy="1.10">15</tspan><tspan font-size="3.91" dy="-4.00">-</tspan></text>
<text x="347.00" y="266.17" text-anchor="middle" font-size="6.3" >4.6 ppm</text>
<text transform="translate(388.50,275.26) scale(0.88,1)" text-anchor="middle" font-size="9.9" fill="#111" style="stroke:#111;stroke-width:0.3px">C</text>
<text x="369.10" y="228.47" text-anchor="middle"><tspan font-style="italic">m/z</tspan> 799.4690</text>
<text x="369.10" y="236.19" text-anchor="middle"><tspan dy="0.00">C</tspan><tspan font-size="4.03" dy="1.10">45</tspan><tspan dy="-1.10">H</tspan><tspan font-size="4.03" dy="1.10">67</tspan><tspan dy="-1.10">O</tspan><tspan font-size="4.03" dy="1.10">12</tspan><tspan font-size="3.91" dy="-4.00">-</tspan></text>
<text x="369.10" y="243.57" text-anchor="middle" font-size="6.3" >6.5 ppm</text>
<text x="409.30" y="208.97" text-anchor="middle"><tspan font-style="italic">m/z</tspan> 801.4743</text>
<text x="409.30" y="216.69" text-anchor="middle"><tspan dy="0.00">C</tspan><tspan font-size="4.03" dy="1.10">45</tspan><tspan dy="-1.10">H</tspan><tspan font-size="4.03" dy="1.10">69</tspan><tspan dy="-1.10">O</tspan><tspan font-size="4.03" dy="1.10">12</tspan><tspan font-size="3.91" dy="-4.00">-</tspan></text>
<text x="409.30" y="224.07" text-anchor="middle" font-size="6.3" >-6.4 ppm</text>
<text x="457.60" y="244.27" text-anchor="middle"><tspan font-style="italic">m/z</tspan> 817.4709</text>
<text x="457.60" y="251.99" text-anchor="middle"><tspan dy="0.00">C</tspan><tspan font-size="4.03" dy="1.10">45</tspan><tspan dy="-1.10">H</tspan><tspan font-size="4.03" dy="1.10">69</tspan><tspan dy="-1.10">O</tspan><tspan font-size="4.03" dy="1.10">13</tspan><tspan font-size="3.91" dy="-4.00">-</tspan></text>
<text x="457.60" y="259.37" text-anchor="middle" font-size="6.3" >-4.2 ppm</text>
<text x="526.50" y="234.87" text-anchor="middle"><tspan font-style="italic">m/z</tspan> 979.5289</text>
<text x="526.50" y="242.59" text-anchor="middle"><tspan dy="0.00">C</tspan><tspan font-size="4.03" dy="1.10">51</tspan><tspan dy="-1.10">H</tspan><tspan font-size="4.03" dy="1.10">79</tspan><tspan dy="-1.10">O</tspan><tspan font-size="4.03" dy="1.10">18</tspan><tspan font-size="3.91" dy="-4.00">-</tspan></text>
<text x="526.50" y="249.97" text-anchor="middle" font-size="6.3" >1.7 ppm</text>
<line x1="73.00" y1="266.60" x2="83.70" y2="245.00" stroke="#8a8a8a" stroke-width="0.6"/>
<line x1="361.30" y1="258.20" x2="387.84" y2="280.35" stroke="#8a8a8a" stroke-width="0.6"/>
<line x1="384.10" y1="236.30" x2="428.46" y2="282.45" stroke="#8a8a8a" stroke-width="0.6"/>
<line x1="415.80" y1="225.80" x2="428.86" y2="282.45" stroke="#8a8a8a" stroke-width="0.6"/>
<line x1="457.30" y1="261.00" x2="438.32" y2="280.35" stroke="#8a8a8a" stroke-width="0.6"/>
<text x="182.7" y="26.00" font-size="10.0" fill="#111" style="stroke:#111;stroke-width:0.32px" textLength="109.5" lengthAdjust="spacingAndGlyphs">OA 24-<tspan font-style="italic">O</tspan>-β-<tspan font-size="8.00">D</tspan>-glucoside (<tspan font-weight="bold">4</tspan>)</text>
<text x="179.2" y="123.60" font-size="10.0" fill="#111" style="stroke:#111;stroke-width:0.32px" textLength="117.6" lengthAdjust="spacingAndGlyphs">DTX2 24-<tspan font-style="italic">O</tspan>-β-<tspan font-size="8.00">D</tspan>-glucoside (<tspan font-weight="bold">5</tspan>)</text>
<text x="178.9" y="215.60" font-size="10.0" fill="#111" style="stroke:#111;stroke-width:0.32px" textLength="117.8" lengthAdjust="spacingAndGlyphs">DTX1 24-<tspan font-style="italic">O</tspan>-β-<tspan font-size="8.00">D</tspan>-glucoside (<tspan font-weight="bold">6</tspan>)</text>
<text x="444.4" y="26.00" font-size="10.0" fill="#111" style="stroke:#111;stroke-width:0.32px" textLength="41.8" lengthAdjust="spacingAndGlyphs">2.96 × 10<tspan font-size="6.50" dy="-3.6">5</tspan></text>
<text x="444.5" y="119.80" font-size="10.0" fill="#111" style="stroke:#111;stroke-width:0.32px" textLength="41.5" lengthAdjust="spacingAndGlyphs">1.46 × 10<tspan font-size="6.50" dy="-3.6">6</tspan></text>
<text x="444.9" y="211.80" font-size="10.0" fill="#111" style="stroke:#111;stroke-width:0.32px" textLength="40.8" lengthAdjust="spacingAndGlyphs">1.60 × 10<tspan font-size="6.50" dy="-3.6">4</tspan></text>
</svg>
</body></html>
